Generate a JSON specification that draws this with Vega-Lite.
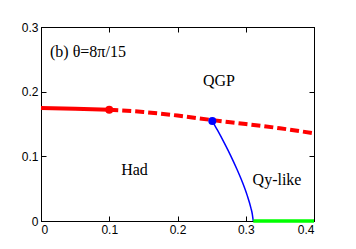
{
  "$schema": "https://vega.github.io/schema/vega-lite/v6.json",
  "autosize": "none",
  "width": 273,
  "height": 194,
  "padding": {"left": 41, "top": 27, "right": 42, "bottom": 28},
  "background": "white",
  "config": {
    "view": {"stroke": "black", "strokeWidth": 1},
    "axis": {
      "grid": false,
      "domainColor": "black",
      "domainWidth": 1,
      "tickColor": "black",
      "tickSize": -5,
      "labelFont": "Liberation Sans",
      "labelFontSize": 12,
      "labelColor": "black",
      "title": null
    }
  },
  "datasets": {
    "solid": [
      {"x": 0, "y": 0.1747},
      {"x": 0.05, "y": 0.1735},
      {"x": 0.1, "y": 0.172}
    ],
    "dashed": [
      {"x": 0.1, "y": 0.172},
      {"x": 0.15, "y": 0.1686},
      {"x": 0.2, "y": 0.1631},
      {"x": 0.25, "y": 0.1562},
      {"x": 0.3, "y": 0.15},
      {"x": 0.35, "y": 0.1434},
      {"x": 0.4, "y": 0.1356}
    ],
    "blue": [
      {"x": 0.251, "y": 0.1546},
      {"x": 0.2588, "y": 0.14},
      {"x": 0.2689, "y": 0.12},
      {"x": 0.2784, "y": 0.1},
      {"x": 0.2871, "y": 0.08},
      {"x": 0.2951, "y": 0.06},
      {"x": 0.302, "y": 0.04},
      {"x": 0.3076, "y": 0.02},
      {"x": 0.3097, "y": 0.01},
      {"x": 0.311, "y": 0}
    ],
    "green": [
      {"x": 0.311, "y": 0},
      {"x": 0.4, "y": 0}
    ],
    "points": [
      {"x": 0.1, "y": 0.172, "c": "red"},
      {"x": 0.251, "y": 0.1546, "c": "blue"}
    ],
    "title": [
      {"x": 0.0132, "y": 0.2613, "t": "(b) θ=8π/15"}
    ],
    "labels": [
      {"x": 0.2608, "y": 0.2165, "t": "QGP"},
      {"x": 0.137, "y": 0.0789, "t": "Had"},
      {"x": 0.3458, "y": 0.0634, "t": "Qy-like"}
    ]
  },
  "layer": [
    {
      "data": {"name": "solid"},
      "mark": {"type": "line", "color": "#ff0000", "strokeWidth": 4},
      "encoding": {
        "x": {"field": "x", "type": "quantitative", "scale": {"domain": [0, 0.4], "nice": false},
              "axis": {"orient": "bottom", "values": [0, 0.1, 0.2, 0.3, 0.4], "format": "~g", "labelPadding": 8}},
        "y": {"field": "y", "type": "quantitative", "scale": {"domain": [0, 0.3], "nice": false},
              "axis": {"orient": "left", "values": [0, 0.1, 0.2, 0.3], "format": "~g", "labelPadding": 8}}
      }
    },
    {
      "data": {"name": "dashed"},
      "mark": {"type": "line", "color": "#ff0000", "strokeWidth": 4, "strokeDash": [9, 4], "interpolate": "monotone"},
      "encoding": {
        "x": {"field": "x", "type": "quantitative",
              "axis": {"orient": "top", "values": [0, 0.1, 0.2, 0.3, 0.4], "labelOpacity": 0}},
        "y": {"field": "y", "type": "quantitative",
              "axis": {"orient": "right", "values": [0, 0.1, 0.2, 0.3], "labelOpacity": 0}}
      }
    },
    {
      "data": {"name": "blue"},
      "mark": {"type": "line", "color": "#0000ff", "strokeWidth": 1.5, "interpolate": "monotone"},
      "encoding": {
        "x": {"field": "x", "type": "quantitative", "axis": null},
        "y": {"field": "y", "type": "quantitative", "axis": null}
      }
    },
    {
      "data": {"name": "green"},
      "mark": {"type": "line", "color": "#00ff00", "strokeWidth": 3.5},
      "encoding": {
        "x": {"field": "x", "type": "quantitative", "axis": null},
        "y": {"field": "y", "type": "quantitative", "axis": null}
      }
    },
    {
      "data": {"name": "points"},
      "mark": {"type": "point", "filled": true, "opacity": 1, "size": 64},
      "encoding": {
        "x": {"field": "x", "type": "quantitative", "axis": null},
        "y": {"field": "y", "type": "quantitative", "axis": null},
        "color": {"field": "c", "type": "nominal", "scale": {"domain": ["red", "blue"], "range": ["#ff0000", "#0000ff"]}, "legend": null}
      }
    },
    {
      "data": {"name": "title"},
      "mark": {"type": "text", "font": "Liberation Serif", "fontSize": 16, "baseline": "middle", "align": "left", "color": "black"},
      "encoding": {
        "x": {"field": "x", "type": "quantitative", "axis": null},
        "y": {"field": "y", "type": "quantitative", "axis": null},
        "text": {"field": "t"}
      }
    },
    {
      "data": {"name": "labels"},
      "mark": {"type": "text", "font": "Liberation Serif", "fontSize": 16, "baseline": "middle", "align": "center", "color": "black"},
      "encoding": {
        "x": {"field": "x", "type": "quantitative", "axis": null},
        "y": {"field": "y", "type": "quantitative", "axis": null},
        "text": {"field": "t"}
      }
    }
  ],
  "resolve": {"axis": {"x": "independent", "y": "independent"}}
}
